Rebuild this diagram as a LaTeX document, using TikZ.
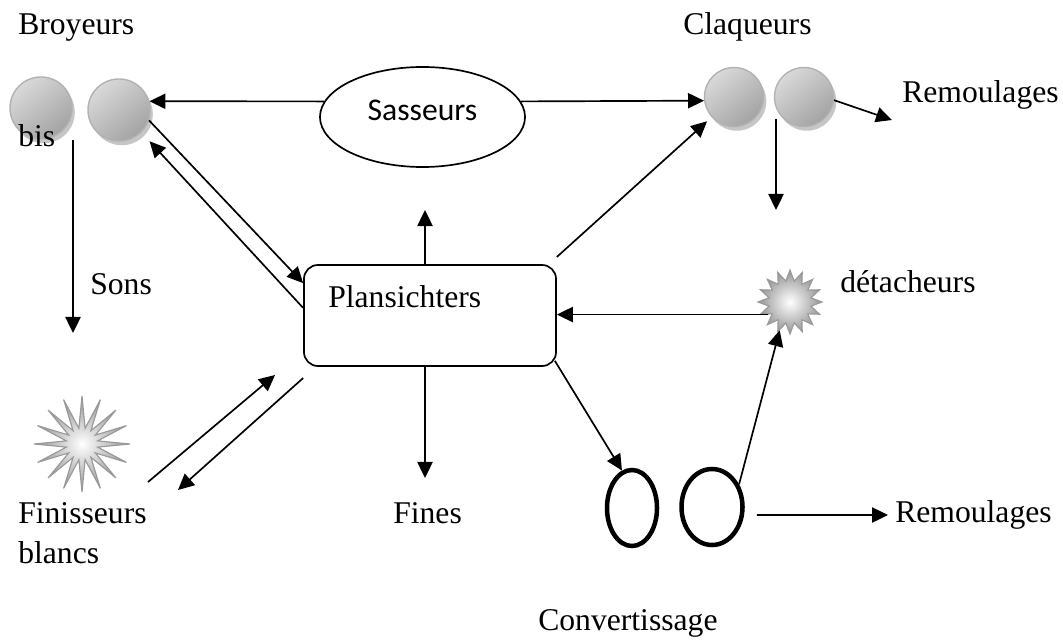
\documentclass[tikz,border=0pt]{standalone}
\usepackage{fontspec}
\setmainfont{Liberation Serif}
\newfontfamily\calibri{Carlito}
\usetikzlibrary{arrows.meta,shapes.geometric,shadows,calc}

\begin{document}
\begin{tikzpicture}[x=0.025cm, y=-0.025cm,
        arr/.style={-{Triangle[length=0.4cm,width=0.38cm]}, line width=1.2pt},
        txt/.style={anchor=base west, inner sep=0pt, font=\fontsize{22.5}{27}\selectfont},
        ball/.style={circle, inner sep=0pt, minimum size=#1, draw=gray!60, line width=1pt,
            top color=gray!30, bottom color=gray!72, shading angle=40,
            drop shadow={shadow xshift=2pt, shadow yshift=-3pt, fill=gray!45, opacity=1}},
        spiky/.style={star, star points=16, star point ratio=#1, inner sep=0pt,
            draw=gray!80, line width=0.8pt, inner color=white, outer color=gray!85},
        ring/.style={ellipse, draw, line width=3.2pt, inner sep=0pt, minimum height=1.9cm}]
        \useasboundingbox (0,0) rectangle (1063,642);
        \node[ball=1.55cm] (c1) at (41,108) {};
        \node[ball=1.55cm] (c2) at (119,110) {};
        \node[ball=1.475cm] (c3) at (734,97) {};
        \node[ball=1.475cm] (c4) at (804,97) {};
        \node[ellipse, draw, line width=1.2pt, inner sep=0pt, minimum width=5.125cm, minimum height=2.5cm,
            text depth=0.35cm, font=\calibri\fontsize{22.5}{27}\selectfont] (sass) at (422.5,117) {Sasseurs};
        \node[draw, rounded corners=0.35cm, line width=1.2pt, minimum width=6.3cm, minimum height=2.525cm] (plan) at (430,315.5) {};
        \node[spiky=3, minimum size=2.4cm] (finstar) at (82,444) {};
        \node[spiky=1.5, minimum size=1.6cm] (det) at (790,302) {};
        \node[ring, minimum width=1.25cm] (o1) at (632,508) {};
        \node[ring, minimum width=1.525cm] (o2) at (712,507) {};

        \node[txt] (broy) at (18,35) {Broyeurs};
        \node[txt] (claq) at (683,35) {Claqueurs};
        \node[txt] (remtop) at (902,103) {Remoulages};
        \node[txt] (bis) at (18,147) {bis};
        \node[txt] (sons) at (90,295) {Sons};
        \node[txt] (plantxt) at (328,308) {Plansichters};
        \node[txt] (dettxt) at (840,293) {détacheurs};
        \node[txt] (fin) at (18,523) {Finisseurs};
        \node[txt] (blancs) at (18,563) {blancs};
        \node[txt] (fines) at (393,523) {Fines};
        \node[txt] (rembot) at (895,522) {Remoulages};
        \node[txt] (conv) at (538,630) {Convertissage};

        \coordinate (remin) at (892,120);
        \coordinate (claqa) at (776,119);
        \coordinate (claqb) at (776,210);
        \coordinate (broya) at (73,140);
        \coordinate (broyb) at (73,333);
        \coordinate (sassin) at (425,210);
        \coordinate (finesin) at (425,478);
        \coordinate (remfin) at (888,515);
        \coordinate (fa) at (148,482);
        \coordinate (fb) at (275,375);
        \coordinate (fc) at (178,490);

        \draw[arr] (sass.171) -- (c2.16);
        \draw[arr] (sass.9) -- (c3.187);
        \draw[arr] (c4.-6) -- (remin);
        \draw[arr] (claqa) -- (claqb);
        \draw[arr] (broya) -- (broyb);
        \draw[arr] (sassin |- plan.north) -- (sassin);
        \draw[arr] (finesin |- plan.south) -- (finesin);
        \draw[arr] (c2.-19) -- ([yshift=0.81cm]plan.west);
        \draw[arr, shorten >=0.3cm] ([yshift=0.19cm]plan.west) -- (c2.-45);
        \draw[arr, shorten >=0.15cm] ([yshift=0.18cm]plan.north east) -- (c3.222);
        \draw[arr] (det.210) -- (det.210 -| plan.east);
        \draw[arr] ([shift={(-0.05cm,0.15cm)}]plan.south east) -- (o1.105);
        \draw[arr] (o2.40) -- (det.250);
        \draw[arr] ([shift={(0.3cm,-0.2cm)}]o2.east) -- (remfin);
        \draw[arr] (fa) -- (fb);
        \draw[arr] ([yshift=-0.28cm]plan.south west) -- (fc);
    \end{tikzpicture}
\end{document}
